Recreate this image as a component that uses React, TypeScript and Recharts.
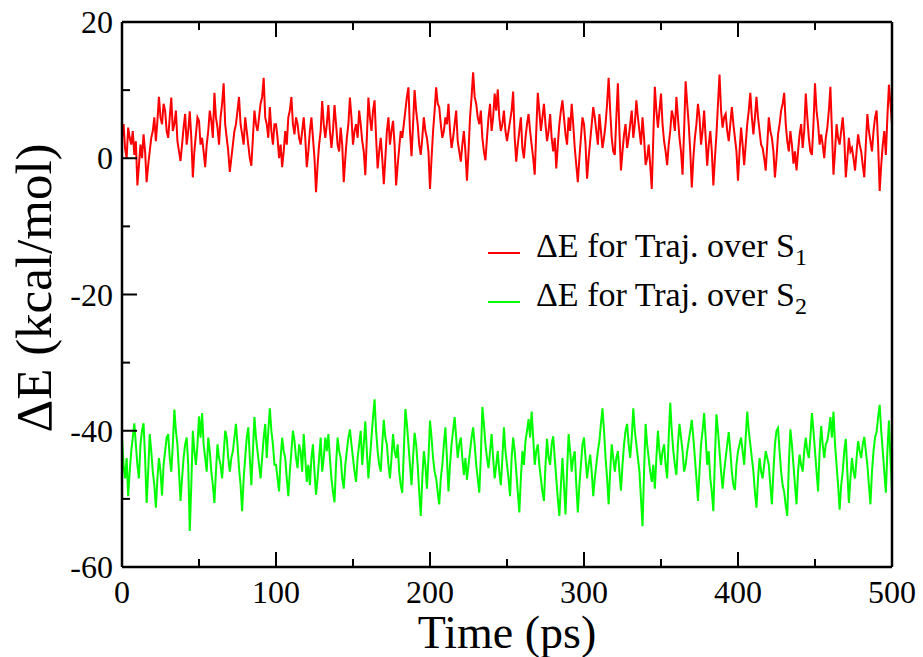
import React from 'react';
import { LineChart, Line, XAxis, YAxis, Legend, Label } from 'recharts';

// sampled every 1 ps, 0..500
const timeStep = 1;

const s1Energy = [
  3, 5, 1.5, 0, 4.5, 3, 2, 4, 0.5, 2.5, -4, -1, 2, 0, 3.5, 1, -3.5, -1, 1, 3, 4, 6, 2.5, 5.5, 9, 6, 5, 8, 7, 4, 3, 6, 8.9, 4, 5, 7, 2.5, 1, -0.4, 2, 4.5, 6.5, 2, 4, 6.9, 3, -2.8, 1, 3.5, 6,
  5.5, 2, 3, 1, -1.3, 2, 4, 7, 5.5, 3, 9.6, 6, 4.5, 2, 6, 8, 11, 5, 3, 1, -2, 0, 2, 4, 5, 7, 9, 5, 3.5, 2, 6, 4, 2, 0, -1.1, 3, 7, 5, 4, 6, 8, 9, 11.8, 6, 5, 3, 7.5, 4, 2, 5,
  5, 3, 0, 2, -1.3, 1, 4, 2, 6, 7, 9, 5, 3.5, 6, 5, 3, 2, 4, 6, 3, -1.3, 1, 4, 6, 3, 0, -5, -1, 2, 4, 8.4, 5, 3, 5, 7.8, 4, 1.5, 4, 7.8, 5, 2, 1, 4.5, 2, -3.5, 0, 3, 5, 8.9, 6,
  2, 4, 5, 3, 7, 5, 2.5, 1, -2.5, 3, 8.9, 6, 4, 7, 8.5, 3, -1.5, 1, 3, 0, -3.8, 0, 4, 6, 2, 4, 5.5, 2, -4, -1, 1.5, 4, 3, 5, 7, 9, 10.4, 4, 0.3, 5, 10, 7, 5, 2, 0.5, 3, 6, 4, 3, 1,
  -4.5, 0, 4, 7, 10.4, 8, 7.5, 5, 3, 4, 6, 5, 8, 4, 1.5, 3, 5, 7, 2.5, 1, -0.5, 2, 4, 1, -3.3, 1, 6, 9, 12.6, 9, 8, 6, 5, 7, 3, 1, -0.3, 3, 6, 8, 4, 6, 9.5, 7, 10.1, 6, 4, 5, 7, 4,
  2.5, 4, 5.5, 7, 9.8, 3, -0.5, 2, 4, 6, 1.5, 0, 3, 5, 6.5, 4, 2, 0, -2.4, 4, 9.6, 7, 4, 6, 8, 5, 2.5, 4, 6.5, 3, 1, 3, -1.5, 2, 5, 7, 8.5, 6, 3.5, 2, 6, 4, 8, 5, 1.5, -1, -3.5, 0, 3, 6,
  5, 2, -3, 0, 2.5, 5, 7.5, 6, 4, 2, 6.5, 4, 1.5, 3, 5, 8, 11.8, 7, 3, 1, 0.5, 6, 11, 4, -1.8, 1, 3.5, 5, 1.5, 3, 5, 7, 3, 5, 8.5, 6, 4, 2, 6, 3, -1, 0, 2, -1, -4.5, 3, 10.5, 7, 4.5, 7,
  9.5, 5, 2.5, 1, -1, 2, 4, 7, 6, 4, 9, 6, 3, 1, -2.4, 4, 11.3, 8, 5, 1, -4.3, 0, 3, 5, 8, 6, 2, 4, 7, 3, -1.1, 2, 4, 1, -4, 0, 3.5, 8, 12.3, 7, 4.5, 6, 6.5, 4, 2.5, 5, 7.5, 5, 3, 1,
  -3.3, 1, 4.5, 2, -1, 2, 5, 7, 9.6, 6, 3.5, 6, 9, 6, 4, 2, 1.5, 0, -1.8, 2, 6, 4, 3, 1, -2.8, 0, 3.5, 5, 7, 8, 9.6, 5, 2.5, 1, 4, 2, -0.8, 1, -1.8, 1, 3.5, 5, 1.5, 4, 9.5, 6, 3, 1, 0.5, 5,
  11, 7, 5, 2, 3.5, 2, 0, 3, 4.5, 7, 10.5, 4, -2.4, 1, 5, 3, 2, 4, 6, 3, -2.8, 0, 3, 1, 1.5, 0, -1.8, 1, 3.5, 2, 1, -1, -2.8, 2, 6.5, 4, 2.5, 1, 4, 6, 7, 2, -4.8, -1, 2, 4, 0.5, 6, 10.8, 8, 5,
];

const s2Energy = [
  -41, -45, -47, -44, -49.6, -46, -43, -41, -38.9, -42, -45, -47, -42, -40, -38.9, -44, -50.6, -46, -40.5, -43, -46, -48, -51.3, -47, -44, -46, -49.5, -45, -43, -41, -40.5, -44, -46, -42, -36.9, -40, -42, -46, -50.3, -47, -44, -42, -41, -45, -54.7, -48, -40, -43, -45, -42,
  -37.9, -41, -37.4, -42, -44, -46, -41, -43, -46, -48, -50.6, -46, -42, -44, -45, -47, -43.5, -40, -41, -44, -46, -44, -43, -41, -39, -42, -45.5, -48, -51.8, -47, -44, -41, -39.5, -44, -48, -43, -38, -41, -43, -45, -47, -44, -41, -39, -44, -40, -36.7, -40, -42, -45,
  -45, -47, -48.9, -44, -41, -43, -44, -47, -49.6, -46, -43, -40, -41.5, -44, -45.5, -42, -43, -46, -40.5, -44, -47.5, -45, -48, -44, -42, -46, -49.4, -47, -44, -41, -46, -44, -41, -43, -40.5, -44, -47, -49, -50.5, -45, -41, -43, -44, -47, -48.5, -45, -43, -41, -39.8, -42,
  -44, -46, -47.5, -44, -42, -40, -45, -42, -38.6, -43, -47, -44, -41, -38, -35.4, -40, -43, -45, -46, -42, -38.4, -41, -42, -45, -47, -44, -40.5, -43, -44, -42, -46, -48, -49.1, -43, -36.8, -39, -42, -45, -48, -44, -40.3, -42, -45, -49, -52.5, -47, -43, -45, -48.5, -44,
  -38.5, -41, -44, -46, -47, -49, -50.8, -47, -45, -42, -39.5, -44, -48.9, -45, -42, -40, -38, -41, -44, -42, -41, -44, -46.5, -44, -47.2, -45, -43, -41, -39.5, -42, -45, -47, -49.1, -44, -36.5, -39, -42, -44, -45.5, -43, -40.5, -44, -47, -45, -43, -46, -48, -44, -39.5, -43,
  -45, -47, -49.6, -44, -41, -43, -46, -49, -52, -47, -43, -45, -41.5, -40, -38.3, -41, -37.2, -41, -45, -43, -42, -45, -47, -49, -50.3, -45, -41.2, -44, -45, -42, -40.8, -44, -47, -50, -52.5, -48, -44, -48, -52.3, -46, -40.5, -43, -46, -44, -43, -48, -52, -48, -45, -42,
  -41, -44, -47, -45, -43.5, -46, -49.6, -47, -45, -43, -41.5, -39, -36.7, -40, -44, -47, -50.8, -46, -42, -44, -46, -44, -43, -46, -48.8, -45, -42, -40, -39, -42, -44, -41, -36.7, -40, -42, -44, -46, -50, -54, -46, -39, -42, -44, -46, -47.5, -45, -48.5, -44, -40, -43,
  -45, -43, -42, -45, -47, -41, -35.9, -40, -43, -45, -46.5, -42, -39, -41, -43, -46, -45, -43, -41.5, -40, -38.4, -41, -44, -47, -50.3, -46, -42, -40, -37.4, -41, -45, -43, -47, -49, -51.8, -44, -37.6, -40, -43, -46, -48.5, -46, -44, -42, -40.2, -43, -46, -48, -48.7, -45,
  -43, -42, -41, -43, -45, -41, -37.2, -40, -42, -44, -46, -49, -51.3, -47, -44, -46, -47, -45, -43, -44, -45, -48, -50.8, -46, -42, -40, -39.6, -43, -46, -48, -49, -51, -52.5, -45, -39.8, -42, -45, -48, -50.8, -46, -43.5, -45, -46, -43, -41, -43, -44, -41, -37.4, -40,
  -43, -46, -48.9, -43, -39.3, -42, -44, -42, -41.5, -40, -38, -41, -37.2, -42, -45, -48, -51.6, -48, -46, -43, -41.2, -46, -50.6, -47, -44, -46, -47, -44, -41.5, -43, -44, -42, -40.9, -43, -45, -48, -50.8, -46, -43, -41, -40.2, -38, -36.2, -40, -43, -46, -49.1, -43, -38.5, -44, -49,
];

const xTicks = [0, 50, 100, 150, 200, 250, 300, 350, 400, 450, 500];
const yTicks = [-60, -50, -40, -30, -20, -10, 0, 10, 20];
const seriesNames = ['\u0394E for Traj. over S', '\u0394E for Traj. over S'];
const seriesSubs = ['1', '2'];

const data = s1Energy.map((v, i) => ({ time: i * timeStep, s1: v, s2: s2Energy[i] }));

const FONT = 'Liberation Serif, Tinos, Times New Roman, DejaVu Serif, serif';
const MAJOR = 15;
const MINOR = 8;

const BottomTick = (props: any) => {
  const { x, y, payload } = props;
  const major = payload.value % 100 === 0;
  return (
    <g>
      <line x1={x} y1={y} x2={x} y2={y - (major ? MAJOR : MINOR)} stroke="#000" strokeWidth={2} />
      {major && (
        <text x={x} y={y + 36} textAnchor="middle" fontFamily={FONT} fontSize={32} fill="#000">
          {payload.value}
        </text>
      )}
    </g>
  );
};

const TopTick = (props: any) => {
  const { x, y, payload } = props;
  const major = payload.value % 100 === 0;
  return <line x1={x} y1={y} x2={x} y2={y + (major ? MAJOR : MINOR)} stroke="#000" strokeWidth={2} />;
};

const LeftTick = (props: any) => {
  const { x, y, payload } = props;
  const major = payload.value % 20 === 0;
  return (
    <g>
      <line x1={x} y1={y} x2={x + (major ? MAJOR : MINOR)} y2={y} stroke="#000" strokeWidth={2} />
      {major && (
        <text x={x - 9} y={y + 11} textAnchor="end" fontFamily={FONT} fontSize={32} fill="#000">
          {payload.value}
        </text>
      )}
    </g>
  );
};

const RightTick = (props: any) => {
  const { x, y, payload } = props;
  const major = payload.value % 20 === 0;
  return <line x1={x} y1={y} x2={x - (major ? MAJOR : MINOR)} y2={y} stroke="#000" strokeWidth={2} />;
};

const LegendBox = (props: any) => {
  const { payload } = props;
  return (
    <div style={{ fontFamily: FONT, fontSize: 34, color: '#000' }}>
      {(payload || []).map((entry: any, i: number) => (
        <div key={i} style={{ display: 'flex', alignItems: 'center', height: 49, whiteSpace: 'nowrap' }}>
          <div style={{ width: 32, height: 0, borderTop: `2px solid ${entry.color}`, marginRight: 16, marginTop: 8 }} />
          <span>
            {seriesNames[i]}
            <sub style={{ fontSize: 24 }}>{seriesSubs[i]}</sub>
          </span>
        </div>
      ))}
    </div>
  );
};

export default function App() {
  return (
    <div style={{ position: 'absolute', left: 0, top: 0, background: '#fff' }}>
      <LineChart width={923} height={657} data={data} margin={{ top: 21, right: 30, bottom: 89, left: 121 }}>
        <XAxis
          dataKey="time"
          type="number"
          domain={[0, 500]}
          ticks={xTicks}
          height={1}
          tickSize={0}
          tickMargin={0}
          tick={<BottomTick />}
          axisLine={{ stroke: '#000', strokeWidth: 2.5 }}
          interval={0}
        >
          <Label
            content={() => (
              <text x={507} y={648} textAnchor="middle" fontFamily={FONT} fontSize={46} fill="#000">
                Time (ps)
              </text>
            )}
          />
        </XAxis>
        <XAxis
          xAxisId="top"
          orientation="top"
          dataKey="time"
          type="number"
          domain={[0, 500]}
          ticks={xTicks}
          height={1}
          tickSize={0}
          tickMargin={0}
          tick={<TopTick />}
          axisLine={{ stroke: '#000', strokeWidth: 2.5 }}
          interval={0}
        />
        <YAxis
          type="number"
          domain={[-60, 20]}
          ticks={yTicks}
          width={1}
          tickSize={0}
          tickMargin={0}
          tick={<LeftTick />}
          axisLine={{ stroke: '#000', strokeWidth: 2.5 }}
          interval={0}
        >
          <Label
            content={() => (
              <text
                transform="translate(51,288) rotate(-90)"
                textAnchor="middle"
                fontFamily={FONT}
                fontSize={51}
                fill="#000"
              >
                {'\u0394E (kcal/mol)'}
              </text>
            )}
          />
        </YAxis>
        <YAxis
          yAxisId="right"
          orientation="right"
          type="number"
          domain={[-60, 20]}
          ticks={yTicks}
          width={1}
          tickSize={0}
          tickMargin={0}
          tick={<RightTick />}
          axisLine={{ stroke: '#000', strokeWidth: 2.5 }}
          interval={0}
        />
        <Legend
          layout="vertical"
          align="center"
          verticalAlign="middle"
          content={<LegendBox />}
          wrapperStyle={{ left: 488, top: 224, width: 400, height: 100 }}
        />
        <Line dataKey="s1" stroke="#ff0000" strokeWidth={2} dot={false} isAnimationActive={false} />
        <Line dataKey="s2" stroke="#00ff00" strokeWidth={2} dot={false} isAnimationActive={false} />
      </LineChart>
    </div>
  );
}
